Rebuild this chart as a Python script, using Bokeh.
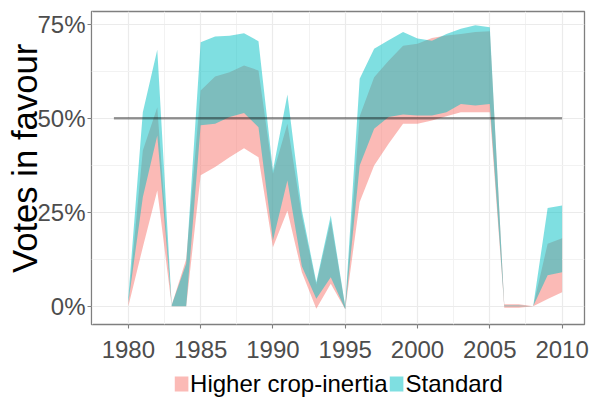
from bokeh.plotting import figure
from bokeh.layouts import column
from bokeh.models import Range1d, FixedTicker, Legend, LegendItem
from bokeh.embed import file_html
from bokeh.resources import INLINE

# ---------------- data ----------------
years = list(range(1980, 2011))

# Higher crop-inertia ribbon (lower / upper bound, % votes in favour)
hc_lo = [0, 15.7, 30.8, 0, 0, 34.8, 37, 39.6, 42, 39.6,
         15.7, 25.4, 9, -0.7, 6, -0.8, 27.7, 37.4, 43.2, 48.5,
         48.5, 49.4, 50.5, 51.6, 51.6, 51.6, -0.4, -0.4, 0, 1.9, 3.7]
hc_hi = [1, 41.4, 52.9, 0.3, 12.5, 57.4, 61.1, 62.2, 64, 62.7,
         35.2, 48.5, 24, 5.8, 22.8, -0.2, 50.5, 60.9, 65.3, 69.3,
         69.8, 71.3, 72, 72.4, 72.9, 73.1, 0.5, 0.5, 0, 16.6, 18.1]

# Standard ribbon
st_lo = [1, 29, 45.4, 0, 0, 48.1, 48.5, 50.3, 51.4, 47.6,
         17.5, 33.4, 10.6, 2, 7.7, -0.8, 37.4, 47.2, 50.3, 51,
         50.7, 50.7, 51.6, 53.8, 53.4, 53.8, 0, 0, 0, 8.2, 9]
st_hi = [2.5, 51.6, 68.2, 0.3, 11.3, 70.2, 71.7, 71.9, 72.6, 70.5,
         36.1, 56.3, 25.5, 6.4, 24.1, 0, 60.5, 68.5, 70.7, 72.9,
         71.2, 70.6, 72.4, 73.8, 74.7, 74.2, 0.2, 0.2, 0, 26.1, 26.8]

series_labels = ["Higher crop-inertia", "Standard"]
series_colors = ["#F8766D", "#00BFC4"]
y_title = "Votes in favour"

# reference line
hline_years = [1979, 2010]
threshold = 50

x_ticks = [1980, 1985, 1990, 1995, 2000, 2005, 2010]
x_minor = [1977.5, 1982.5, 1987.5, 1992.5, 1997.5, 2002.5, 2007.5]
y_ticks = [0, 25, 50, 75]
y_minor = [12.5, 37.5, 62.5]
y_tick_labels = ["0%", "25%", "50%", "75%"]

# ---------------- main figure ----------------
FONT = "Liberation Sans"

p = figure(width=590, height=369, output_backend="svg", toolbar_location=None,
           x_range=Range1d(1977.45, 2011.55), y_range=Range1d(-4.87, 78.38),
           min_border_left=91, min_border_right=6, min_border_top=11,
           min_border_bottom=45)

p.background_fill_color = "white"
p.border_fill_color = "white"
p.outline_line_color = "#7F7F7F"
p.outline_line_width = 1.3

xt = FixedTicker(ticks=x_ticks, minor_ticks=x_minor)
yt = FixedTicker(ticks=y_ticks, minor_ticks=y_minor)
p.xaxis.ticker = xt
p.yaxis.ticker = yt
p.xgrid.ticker = xt
p.ygrid.ticker = yt

for g in (p.xgrid, p.ygrid):
    g.grid_line_color = "#EBEBEB"
    g.grid_line_width = 1.2
    g.minor_grid_line_color = "#F2F2F2"
    g.minor_grid_line_width = 1.0

p.yaxis.major_label_overrides = {t: l for t, l in zip(y_ticks, y_tick_labels)}

for ax in (p.xaxis, p.yaxis):
    ax.axis_line_color = None
    ax.major_tick_line_color = "#7F7F7F"
    ax.major_tick_line_width = 1.1
    ax.major_tick_in = 0
    ax.major_tick_out = 4
    ax.minor_tick_line_color = None
    ax.major_label_text_font = FONT
    ax.major_label_text_font_size = "24px"
    ax.major_label_text_color = "#4D4D4D"
    ax.major_label_standoff = 2
p.xaxis.major_label_standoff = 12

# two no-break spaces nudge the centred title upwards, as in the reference
p.yaxis.axis_label = "\u00a0\u00a0" + y_title
p.yaxis.axis_label_text_font = FONT
p.yaxis.axis_label_text_font_size = "34.7px"
p.yaxis.axis_label_text_font_style = "normal"
p.yaxis.axis_label_text_color = "black"
p.yaxis.axis_label_standoff = -10

p.varea(x=years, y1=hc_lo, y2=hc_hi, fill_color=series_colors[0], fill_alpha=0.5)
p.varea(x=years, y1=st_lo, y2=st_hi, fill_color=series_colors[1], fill_alpha=0.5)
p.line(x=hline_years, y=[threshold, threshold], line_color="black",
       line_alpha=0.4, line_width=2.5)

# ---------------- legend strip ----------------
# same ribbons, drawn outside the strip's visible range, serve as legend keys
lg = figure(width=590, height=29, output_backend="svg", toolbar_location=None,
            x_range=Range1d(0, 1), y_range=Range1d(0, 1),
            x_axis_location=None, y_axis_location=None,
            min_border_left=91, min_border_right=6, min_border_top=0,
            min_border_bottom=0)
lg.grid.visible = False
lg.outline_line_color = None
lg.background_fill_color = "white"
lg.border_fill_color = "white"

k_hc = lg.varea(x=years, y1=hc_lo, y2=hc_hi, fill_color=series_colors[0], fill_alpha=0.5)
k_st = lg.varea(x=years, y1=st_lo, y2=st_hi, fill_color=series_colors[1], fill_alpha=0.5)

legend = Legend(items=[LegendItem(label=series_labels[0], renderers=[k_hc]),
                       LegendItem(label=series_labels[1], renderers=[k_st])],
                orientation="horizontal", location="center",
                glyph_width=17, glyph_height=19, label_standoff=1, spacing=0,
                padding=0, margin=0, border_line_color=None,
                background_fill_alpha=0,
                label_text_font=FONT, label_text_font_size="24px",
                label_text_color="black")
lg.add_layout(legend, "center")

layout = column(p, lg, spacing=0)

open("out.html", "w").write(file_html(layout, INLINE))
